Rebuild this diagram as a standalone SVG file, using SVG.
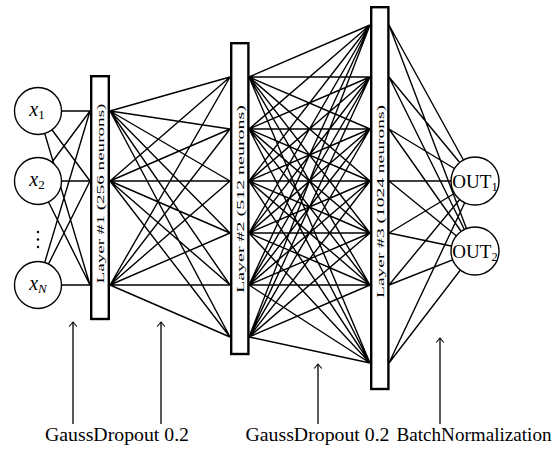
<svg xmlns="http://www.w3.org/2000/svg" width="555" height="456" viewBox="0 0 555 456">
  <style>
    .edge { stroke: #000; stroke-width: 1.4; fill: none; }
    .layer { fill: #fff; stroke: #000; stroke-width: 2.4; }
    .unit { fill: #fff; stroke: #000; stroke-width: 1.4; }
    .lbl { font-family: "Liberation Serif", "DejaVu Serif", serif; fill: #000; }
    .ann { stroke: #000; stroke-width: 1.3; fill: none; }
  </style>
  <defs>
    <marker id="tip" markerUnits="userSpaceOnUse" viewBox="-6 -5 8 10" markerWidth="8" markerHeight="10" refX="0" refY="0" orient="auto">
      <path d="M-4.5,-3.8 Q-1.2,-1 0,0 Q-1.2,1 -4.5,3.8" fill="none" stroke="#000" stroke-width="1.1"/>
    </marker>
  </defs>

  <rect width="555" height="456" fill="#fff"/>

  <g id="connectors">
    <!-- inputs to layer 1 -->
    <path class="edge" d="M38,111L90,111 M38,111L90,181 M38,111L90,285
                          M38,181L90,111 M38,181L90,181 M38,181L90,285
                          M38,285L90,111 M38,285L90,181 M38,285L90,285"/>
    <!-- layer 1 to layer 2 -->
    <path class="edge" d="M110,111L230,77 M110,111L230,129 M110,111L230,181 M110,111L230,233 M110,111L230,285 M110,111L230,337
                          M110,181L230,77 M110,181L230,129 M110,181L230,181 M110,181L230,233 M110,181L230,285 M110,181L230,337
                          M110,285L230,77 M110,285L230,129 M110,285L230,181 M110,285L230,233 M110,285L230,285 M110,285L230,337"/>
    <!-- layer 2 to layer 3 -->
    <path class="edge" d="M249,77L370,25 M249,77L370,77 M249,77L370,129 M249,77L370,181 M249,77L370,233 M249,77L370,285 M249,77L370,363
                          M249,129L370,25 M249,129L370,77 M249,129L370,129 M249,129L370,181 M249,129L370,233 M249,129L370,285 M249,129L370,363
                          M249,181L370,25 M249,181L370,77 M249,181L370,129 M249,181L370,181 M249,181L370,233 M249,181L370,285 M249,181L370,363
                          M249,233L370,25 M249,233L370,77 M249,233L370,129 M249,233L370,181 M249,233L370,233 M249,233L370,285 M249,233L370,363
                          M249,285L370,25 M249,285L370,77 M249,285L370,129 M249,285L370,181 M249,285L370,233 M249,285L370,285 M249,285L370,363
                          M249,337L370,25 M249,337L370,77 M249,337L370,129 M249,337L370,181 M249,337L370,233 M249,337L370,285 M249,337L370,363"/>
    <!-- layer 3 to outputs -->
    <path class="edge" d="M389,25L475,181 M389,77L475,181 M389,129L475,181 M389,181L475,181 M389,233L475,181 M389,285L475,181 M389,363L475,181
                          M389,25L475,251 M389,77L475,251 M389,129L475,251 M389,181L475,251 M389,233L475,251 M389,285L475,251 M389,363L475,251"/>
  </g>

  <g id="x1">
    <circle class="unit" cx="38" cy="111" r="23.5"/>
    <text class="lbl" x="37" y="116" font-size="20" text-anchor="middle"><tspan font-style="italic">x</tspan><tspan font-size="13" dy="3">1</tspan></text>
  </g>
  <g id="x2">
    <circle class="unit" cx="38" cy="181" r="23.5"/>
    <text class="lbl" x="37" y="186" font-size="20" text-anchor="middle"><tspan font-style="italic">x</tspan><tspan font-size="13" dy="3">2</tspan></text>
  </g>
  <g id="dots">
    <circle cx="38" cy="232" r="1.2" fill="#000"/>
    <circle cx="38" cy="239.5" r="1.2" fill="#000"/>
    <circle cx="38" cy="247" r="1.2" fill="#000"/>
  </g>
  <g id="xN">
    <circle class="unit" cx="38" cy="285" r="23.5"/>
    <text class="lbl" x="38" y="290" font-size="20" text-anchor="middle"><tspan font-style="italic">x</tspan><tspan font-size="13" font-style="italic" dy="3">N</tspan></text>
  </g>

  <g id="layer1">
    <rect class="layer" x="91.2" y="76.2" width="17.6" height="242.8"/>
    <text class="lbl" transform="translate(103.5,283.5) rotate(-90)" font-size="11" textLength="180" lengthAdjust="spacingAndGlyphs">Layer #1 (256 neurons)</text>
  </g>
  <g id="layer2">
    <rect class="layer" x="231.2" y="43.2" width="17.2" height="310.8"/>
    <text class="lbl" transform="translate(243.5,293) rotate(-90)" font-size="11" textLength="188" lengthAdjust="spacingAndGlyphs">Layer #2 (512 neurons)</text>
  </g>
  <g id="layer3">
    <rect class="layer" x="371.2" y="7.2" width="17.2" height="381.8"/>
    <text class="lbl" transform="translate(383.5,298) rotate(-90)" font-size="11" textLength="193" lengthAdjust="spacingAndGlyphs">Layer #3 (1024 neurons)</text>
  </g>

  <g id="out1">
    <circle class="unit" cx="475" cy="181" r="24"/>
    <text class="lbl" x="475" y="188" font-size="19" text-anchor="middle">OUT<tspan font-size="12.5" dy="3">1</tspan></text>
  </g>
  <g id="out2">
    <circle class="unit" cx="475" cy="251" r="24"/>
    <text class="lbl" x="475" y="258" font-size="19" text-anchor="middle">OUT<tspan font-size="12.5" dy="3">2</tspan></text>
  </g>

  <g id="annotations">
    <path class="ann" d="M73,424V322" marker-end="url(#tip)"/>
    <path class="ann" d="M161,424V322" marker-end="url(#tip)"/>
    <path class="ann" d="M318,424V364" marker-end="url(#tip)"/>
    <path class="ann" d="M440,424V338" marker-end="url(#tip)"/>
    <text class="lbl" x="117" y="441" font-size="19" text-anchor="middle" textLength="144" lengthAdjust="spacingAndGlyphs">GaussDropout 0.2</text>
    <text class="lbl" x="317.5" y="441" font-size="19" text-anchor="middle" textLength="144" lengthAdjust="spacingAndGlyphs">GaussDropout 0.2</text>
    <text class="lbl" x="474" y="441" font-size="19" text-anchor="middle" textLength="155" lengthAdjust="spacingAndGlyphs">BatchNormalization</text>
  </g>
</svg>
